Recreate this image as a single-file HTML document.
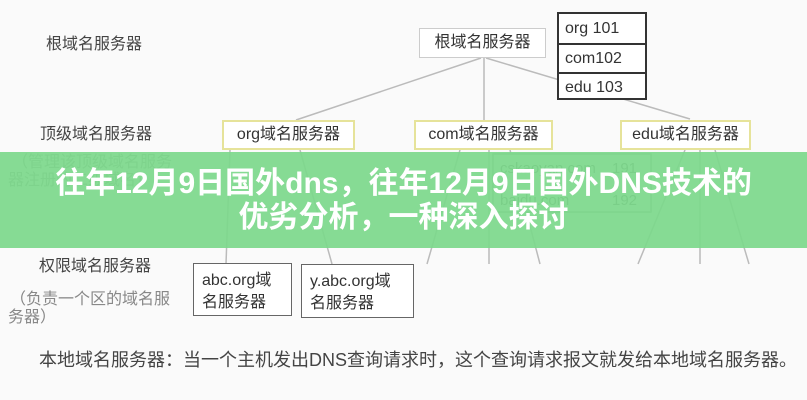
<!DOCTYPE html>
<html><head><meta charset="utf-8"><style>
body{margin:0;width:807px;height:400px;overflow:hidden;background:#fafafa;position:relative;font-family:"Liberation Sans","Noto Sans CJK SC",sans-serif;}
.t{position:absolute;color:#444;font-size:16px;white-space:nowrap;line-height:1;}
.g{color:#888;}
.box{position:absolute;box-sizing:border-box;background:#fff;color:#333;font-size:16px;line-height:1;display:flex;align-items:center;justify-content:center;}
.y{border:2px solid #e6e39a;}
.banner{position:absolute;left:0;top:152px;width:807px;height:96px;background:rgba(125,216,140,0.93);color:#fff;font-weight:bold;font-size:30px;text-align:center;line-height:34px;padding-top:15px;box-sizing:border-box;white-space:nowrap;font-family:"Liberation Sans","Noto Sans CJK SC",sans-serif;}
</style></head><body>
<svg width="807" height="400" style="position:absolute;left:0;top:0">
<g stroke="#bbb" stroke-width="1.5" fill="none">
<line x1="481" y1="58" x2="296" y2="120"/>
<line x1="484" y1="58" x2="484" y2="120"/>
<line x1="486" y1="58" x2="690" y2="119"/>
<line x1="230" y1="150" x2="226" y2="264"/>
<line x1="300" y1="150" x2="332" y2="264"/>
<line x1="460" y1="150" x2="427" y2="264"/>
<line x1="489" y1="150" x2="489" y2="264"/>
<line x1="510" y1="150" x2="540" y2="264"/>
<line x1="685" y1="150" x2="638" y2="264"/>
<line x1="700" y1="150" x2="700" y2="264"/>
<line x1="715" y1="150" x2="749" y2="264"/>
</g>
<rect x="493" y="154" width="158" height="58" fill="#fff" stroke="#9a9" stroke-width="1.5"/>
<text x="500" y="173" font-size="15" fill="#555" font-family="Liberation Sans">cskaoyan.com</text>
<text x="612" y="173" font-size="15" fill="#555" font-family="Liberation Sans">191</text>
<text x="500" y="205" font-size="15" fill="#555" font-family="Liberation Sans">baidu.com</text>
<text x="612" y="205" font-size="15" fill="#555" font-family="Liberation Sans">192</text>
</svg>
<div class="t" style="left:46px;top:37px">根域名服务器</div>
<div class="t" style="left:40px;top:127px">顶级域名服务器</div>
<div class="t g" style="left:12px;top:155px">（管理该顶级域名服务</div>
<div class="t g" style="left:8px;top:173px">器注册的二级域名）</div>
<div class="t" style="left:39px;top:259px">权限域名服务器</div>
<div class="t g" style="left:10px;top:292px">（负责一个区的域名服</div>
<div class="t g" style="left:8px;top:310px">务器）</div>
<div class="t" style="left:39px;top:351px;font-size:18px">本地域名服务器：当一个主机发出DNS查询请求时，这个查询请求报文就发给本地域名服务器。</div>
<div class="box" style="left:419px;top:28px;width:127px;height:30px;border:1.5px solid #ccc">根域名服务器</div>
<div class="box" style="left:557px;top:12px;width:90px;height:88px;border:2px solid #333;display:block">
<div style="height:29px;border-bottom:2px solid #333;line-height:29px;padding-left:6px">org 101</div>
<div style="height:27px;border-bottom:2px solid #333;line-height:27px;padding-left:6px">com102</div>
<div style="height:28px;line-height:28px;padding-left:6px">edu 103</div>
</div>
<div class="box y" style="left:222px;top:120px;width:133px;height:30px">org域名服务器</div>
<div class="box y" style="left:414px;top:120px;width:139px;height:30px">com域名服务器</div>
<div class="box y" style="left:620px;top:120px;width:131px;height:30px">edu域名服务器</div>
<div class="box" style="left:193px;top:263px;width:99px;height:53px;border:1.5px solid #666;display:block;padding:6px 0 0 8px;line-height:22px">abc.org域<br>名服务器</div>
<div class="box" style="left:301px;top:264px;width:113px;height:54px;border:1.5px solid #666;display:block;padding:6px 0 0 8px;line-height:22px">y.abc.org域<br>名服务器</div>
<div class="banner">往年12月9日国外dns，往年12月9日国外DNS技术的<br>优劣分析，一种深入探讨</div>
</body></html>
